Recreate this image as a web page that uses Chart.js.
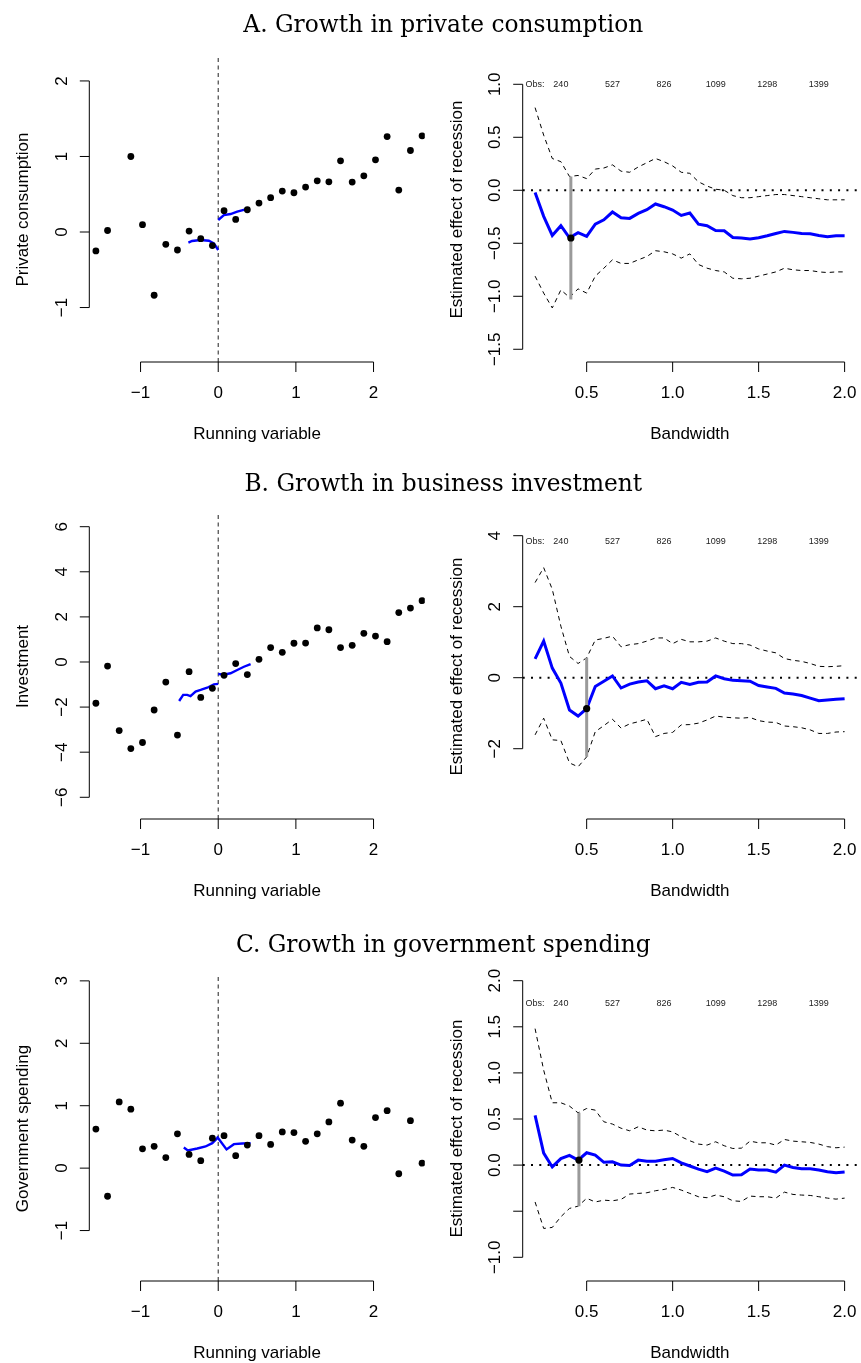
<!DOCTYPE html>
<html>
<head>
<meta charset="utf-8">
<script src="https://cdn.jsdelivr.net/npm/chart.js@4.4.1/dist/chart.umd.min.js"></script>
<style>
  html, body { margin: 0; padding: 0; background: #fff; width: 861px; height: 1363px; overflow: hidden; position: relative; }
  canvas { position: absolute; }
  #titles { left: 0; top: 0; z-index: 5; pointer-events: none; }
</style>
</head>
<body>
<canvas id="titles" width="861" height="1363"></canvas>
<canvas id="aL"></canvas><canvas id="aR"></canvas>
<canvas id="bL"></canvas><canvas id="bR"></canvas>
<canvas id="cL"></canvas><canvas id="cR"></canvas>
<script>
// ---------------- data ----------------
const panelTitles = ['A. Growth in private consumption', 'B. Growth in business investment', 'C. Growth in government spending'];

// bin centres of the running variable (binned scatter, left column)
const bins = [-1.575, -1.425, -1.275, -1.125, -0.975, -0.825, -0.675, -0.525, -0.375, -0.225, -0.075,
              0.075, 0.225, 0.375, 0.525, 0.675, 0.825, 0.975, 1.125, 1.275, 1.425, 1.575, 1.725,
              1.875, 2.025, 2.175, 2.325, 2.475, 2.625];

const consumptionBins = [-0.25, 0.02, null, 1.00, 0.097, -0.837, -0.163, -0.238, 0.013, -0.088, -0.18,
                         0.282, 0.167, 0.295, 0.383, 0.454, 0.542, 0.52, 0.595, 0.678, 0.665, 0.943, 0.661,
                         0.744, 0.956, 1.264, 0.555, 1.079, 1.273];
const investmentBins = [-1.83, -0.18, -3.04, -3.84, -3.57, -2.13, -0.89, -3.24, -0.43, -1.57, -1.17,
                        -0.59, -0.07, -0.56, 0.12, 0.64, 0.43, 0.83, 0.84, 1.51, 1.43, 0.64, 0.74,
                        1.27, 1.15, 0.90, 2.19, 2.39, 2.72];
const governmentBins = [0.625, -0.45, 1.06, 0.945, 0.31, 0.35, 0.17, 0.55, 0.22, 0.12, 0.48,
                        0.52, 0.20, 0.37, 0.52, 0.38, 0.58, 0.57, 0.43, 0.55, 0.74, 1.04, 0.45,
                        0.35, 0.81, 0.92, -0.09, 0.76, 0.08];

// local linear fits on each side of the cutoff
const consumptionFitLeftX  = [-0.384, -0.337, -0.229, -0.121, -0.056, 0];
const consumptionFitLeftY  = [-0.141, -0.119, -0.106, -0.115, -0.15, -0.238];
const consumptionFitRightX = [0, 0.073, 0.159, 0.245, 0.352];
const consumptionFitRightY = [0.159, 0.225, 0.238, 0.269, 0.30];
const investmentFitLeftX   = [-0.503, -0.451, -0.40, -0.357, -0.292, -0.227, -0.142, -0.056, 0];
const investmentFitLeftY   = [-1.73, -1.46, -1.46, -1.51, -1.31, -1.24, -1.14, -0.99, -0.97];
const investmentFitRightX  = [0, 0.073, 0.159, 0.245, 0.331, 0.417];
const investmentFitRightY  = [-0.53, -0.56, -0.50, -0.355, -0.21, -0.09];
const governmentFitLeftX   = [-0.443, -0.391, -0.27, -0.163, -0.077, -0.013, 0];
const governmentFitLeftY   = [0.33, 0.283, 0.315, 0.347, 0.40, 0.48, 0.507];
const governmentFitRightX  = [0, 0.107, 0.202, 0.309, 0.417];
const governmentFitRightY  = [0.48, 0.30, 0.384, 0.395, 0.40];

// bandwidth sensitivity (right column)
const bandwidths = [0.20, 0.25, 0.30, 0.35, 0.40, 0.45, 0.50, 0.55, 0.60, 0.65, 0.70, 0.75, 0.80,
                    0.85, 0.90, 0.95, 1.00, 1.05, 1.10, 1.15, 1.20, 1.25, 1.30, 1.35, 1.40, 1.45,
                    1.50, 1.55, 1.60, 1.65, 1.70, 1.75, 1.80, 1.85, 1.90, 1.95, 2.00];

const consumptionEst = [-0.02, -0.246, -0.426, -0.334, -0.448, -0.40, -0.435, -0.32, -0.278, -0.205, -0.259, -0.265, -0.218,
                        -0.183, -0.129, -0.155, -0.186, -0.237, -0.215, -0.319, -0.334, -0.379, -0.382, -0.445, -0.451, -0.46,
                        -0.448, -0.429, -0.407, -0.388, -0.397, -0.407, -0.41, -0.426, -0.438, -0.429, -0.429];
const consumptionUpper = [0.78, 0.52, 0.30, 0.27, 0.13, 0.14, 0.11, 0.20, 0.21, 0.24, 0.18, 0.17, 0.22,
                          0.26, 0.30, 0.27, 0.23, 0.17, 0.16, 0.08, 0.04, 0.01, 0.00, -0.05, -0.07, -0.07,
                          -0.06, -0.05, -0.04, -0.04, -0.05, -0.06, -0.07, -0.08, -0.09, -0.09, -0.09];
const consumptionLower = [-0.81, -0.97, -1.11, -0.94, -1.01, -0.93, -0.97, -0.81, -0.735, -0.656, -0.69, -0.69, -0.656,
                          -0.625, -0.57, -0.58, -0.60, -0.64, -0.60, -0.70, -0.735, -0.757, -0.77, -0.83, -0.835, -0.83,
                          -0.81, -0.79, -0.77, -0.735, -0.75, -0.757, -0.757, -0.77, -0.776, -0.77, -0.77];

const investmentEst = [0.53, 1.03, 0.27, -0.15, -0.91, -1.08, -0.87, -0.245, -0.10, 0.05, -0.29, -0.18, -0.12,
                       -0.085, -0.31, -0.23, -0.31, -0.13, -0.19, -0.13, -0.12, 0.05, -0.03, -0.075, -0.085, -0.10,
                       -0.22, -0.26, -0.30, -0.43, -0.46, -0.50, -0.575, -0.65, -0.63, -0.61, -0.59];
const investmentUpper = [2.68, 3.10, 2.49, 1.45, 0.60, 0.40, 0.56, 1.06, 1.11, 1.17, 0.87, 0.93, 0.96,
                         1.03, 1.12, 1.12, 0.96, 1.08, 1.01, 1.01, 1.03, 1.12, 1.03, 0.96, 0.96, 0.92,
                         0.81, 0.75, 0.70, 0.54, 0.49, 0.46, 0.40, 0.32, 0.31, 0.32, 0.34];
const investmentLower = [-1.61, -1.14, -1.75, -1.77, -2.40, -2.51, -2.23, -1.52, -1.35, -1.17, -1.42, -1.30, -1.24,
                         -1.17, -1.66, -1.57, -1.54, -1.33, -1.32, -1.28, -1.19, -1.08, -1.11, -1.13, -1.14, -1.12,
                         -1.21, -1.25, -1.26, -1.36, -1.38, -1.41, -1.47, -1.57, -1.57, -1.53, -1.52];

const governmentEst = [0.54, 0.13, -0.02, 0.07, 0.105, 0.054, 0.134, 0.108, 0.03, 0.036, 0.0, -0.004, 0.054,
                       0.043, 0.043, 0.058, 0.072, 0.025, -0.01, -0.043, -0.072, -0.033, -0.065, -0.108, -0.105, -0.043,
                       -0.054, -0.054, -0.076, 0.0, -0.025, -0.04, -0.04, -0.054, -0.072, -0.083, -0.076];
const governmentUpper = [1.48, 1.03, 0.676, 0.676, 0.64, 0.567, 0.614, 0.596, 0.47, 0.445, 0.40, 0.372, 0.416,
                         0.38, 0.372, 0.38, 0.36, 0.307, 0.264, 0.228, 0.217, 0.253, 0.21, 0.18, 0.184, 0.26,
                         0.242, 0.242, 0.217, 0.278, 0.26, 0.253, 0.246, 0.228, 0.20, 0.188, 0.195];
const governmentLower = [-0.40, -0.687, -0.676, -0.56, -0.47, -0.445, -0.36, -0.40, -0.38, -0.387, -0.372, -0.314, -0.307,
                         -0.30, -0.278, -0.264, -0.242, -0.271, -0.307, -0.343, -0.354, -0.325, -0.343, -0.387, -0.394, -0.336,
                         -0.343, -0.343, -0.358, -0.293, -0.318, -0.325, -0.329, -0.343, -0.358, -0.369, -0.358];

// chosen bandwidth: [h, estimate, lower, upper]
const consumptionOptimal = [0.408, -0.45, -1.03, 0.13];
const investmentOptimal  = [0.50, -0.87, -2.23, 0.56];
const governmentOptimal  = [0.455, 0.054, -0.445, 0.567];

// observation counts printed along the top of the bandwidth plots
const obsAt    = [0.2, 0.35, 0.65, 0.95, 1.25, 1.55, 1.85];
const obsLabel = ['Obs:', '240', '527', '826', '1099', '1298', '1399'];

// axis ticks
const runTicks  = [-1, 0, 1, 2];
const runLabels = ['\u22121', '0', '1', '2'];
const bwTicks   = [0.5, 1.0, 1.5, 2.0];
const bwLabels  = ['0.5', '1.0', '1.5', '2.0'];
const consumptionTicks  = [-1, 0, 1, 2];
const consumptionLabels = ['\u22121', '0', '1', '2'];
const consumptionEffTicks  = [-1.5, -1.0, -0.5, 0.0, 0.5, 1.0];
const consumptionEffLabels = ['\u22121.5', '\u22121.0', '\u22120.5', '0.0', '0.5', '1.0'];
const investmentTicks  = [-6, -4, -2, 0, 2, 4, 6];
const investmentLabels = ['\u22126', '\u22124', '\u22122', '0', '2', '4', '6'];
const investmentEffTicks  = [-2, 0, 2, 4];
const investmentEffLabels = ['\u22122', '0', '2', '4'];
const governmentTicks  = [-1, 0, 1, 2, 3];
const governmentLabels = ['\u22121', '0', '1', '2', '3'];
const governmentEffTicks  = [-1.0, -0.5, 0.0, 0.5, 1.0, 1.5, 2.0];
const governmentEffLabels = ['\u22121.0', '', '0.0', '0.5', '1.0', '1.5', '2.0'];

// ---------------- layout ----------------
const SANS = '"Liberation Sans", Arial, Helvetica, sans-serif';
const plotBottoms = [362, 819, 1281];
const PLOT_H = 305, PAD_TOP = 50, PAD_BOTTOM = 85;
const LEFT_CANVAS  = { x: 0,   w: 440, padL: 89.3, padR: 15.2 };
const RIGHT_CANVAS = { x: 430, w: 431, padL: 92.7, padR: 2.8 };

// R-style axes: line only between the outer ticks, outward ticks, rotated y labels
const rAxes = {
  id: 'rAxes',
  afterDraw(chart, args, o) {
    const ctx = chart.ctx, a = chart.chartArea;
    const xs = chart.scales.x, ys = chart.scales.y;
    ctx.save();
    ctx.strokeStyle = '#000';
    ctx.fillStyle = '#000';
    ctx.lineWidth = 1;
    ctx.font = '17px ' + SANS;

    // bottom axis
    const yb = a.bottom;
    const xp = o.xTicks.map(v => xs.getPixelForValue(v));
    ctx.beginPath();
    ctx.moveTo(xp[0], yb); ctx.lineTo(xp[xp.length - 1], yb);
    xp.forEach(p => { ctx.moveTo(p, yb); ctx.lineTo(p, yb + 10); });
    ctx.stroke();
    ctx.textAlign = 'center';
    ctx.textBaseline = 'alphabetic';
    xp.forEach((p, i) => ctx.fillText(o.xLabels[i], p, yb + 36));
    ctx.fillText(o.xTitle, (a.left + a.right) / 2, yb + 77);

    // left axis
    const xl = a.left;
    const yp = o.yTicks.map(v => ys.getPixelForValue(v));
    ctx.beginPath();
    ctx.moveTo(xl, yp[0]); ctx.lineTo(xl, yp[yp.length - 1]);
    yp.forEach(p => { ctx.moveTo(xl, p); ctx.lineTo(xl - 9.5, p); });
    ctx.stroke();
    yp.forEach((p, i) => {
      if (!o.yLabels[i]) return;
      ctx.save();
      ctx.translate(xl - 22.5, p);
      ctx.rotate(-Math.PI / 2);
      ctx.fillText(o.yLabels[i], 0, 0);
      ctx.restore();
    });
    ctx.save();
    ctx.translate(xl - 61, (a.top + a.bottom) / 2);
    ctx.rotate(-Math.PI / 2);
    ctx.fillText(o.yTitle, 0, 0);
    ctx.restore();

    // observation counts
    if (o.obs) {
      ctx.font = '9px ' + SANS;
      ctx.fillStyle = '#222';
      o.obs.at.forEach((v, i) => ctx.fillText(o.obs.labels[i], xs.getPixelForValue(v), a.top + 30));
    }
    ctx.restore();
  }
};

function place(id, col, row) {
  const c = document.getElementById(id);
  const top = plotBottoms[row] - PLOT_H - PAD_TOP;
  c.width = col.w;
  c.height = PAD_TOP + PLOT_H + PAD_BOTTOM;
  c.style.left = col.x + 'px';
  c.style.top = top + 'px';
  return c;
}

function pts(xs, ys) {
  return xs.map((x, i) => ({ x: x, y: ys[i] })).filter(p => p.y !== null);
}

function baseOptions(col, xMin, xMax, yMin, yMax, axes) {
  return {
    responsive: false,
    animation: false,
    devicePixelRatio: 1,
    events: [],
    layout: { padding: { left: col.padL, right: col.padR, top: PAD_TOP, bottom: PAD_BOTTOM } },
    scales: {
      x: { type: 'linear', min: xMin, max: xMax, display: false },
      y: { type: 'linear', min: yMin, max: yMax, display: false }
    },
    plugins: { legend: { display: false }, tooltip: { enabled: false }, rAxes: axes }
  };
}

// binned scatter with the two local fits and the cutoff
function scatterPanel(id, row, values, fitL, fitR, yMin, yMax, yTicks, yLabels, yTitle) {
  const xMin = -1.66, xMax = 2.66;
  const c = place(id, LEFT_CANVAS, row);
  new Chart(c, {
    type: 'scatter',
    data: {
      datasets: [
        { data: pts(bins, values), pointRadius: 3.4, pointBackgroundColor: '#000', pointBorderWidth: 0, showLine: false, order: 0 },
        { data: pts(fitL[0], fitL[1]), showLine: true, borderColor: '#0000ff', borderWidth: 2.4, pointRadius: 0, tension: 0, order: 1 },
        { data: pts(fitR[0], fitR[1]), showLine: true, borderColor: '#0000ff', borderWidth: 2.4, pointRadius: 0, tension: 0, order: 1 },
        { data: [{ x: 0, y: yMin }, { x: 0, y: yMax }], showLine: true, borderColor: '#333', borderWidth: 1.1,
          borderDash: [4, 3.5], pointRadius: 0, order: 3 }
      ]
    },
    options: baseOptions(LEFT_CANVAS, xMin, xMax, yMin, yMax, {
      xTicks: runTicks, xLabels: runLabels, xTitle: 'Running variable',
      yTicks: yTicks, yLabels: yLabels, yTitle: yTitle
    }),
    plugins: [rAxes]
  });
}

// estimate by bandwidth with confidence band and the chosen bandwidth
function bandwidthPanel(id, row, est, lower, upper, opt, yMin, yMax, yTicks, yLabels) {
  const xMin = 0.128, xMax = 2.072;
  const c = place(id, RIGHT_CANVAS, row);
  const dashed = { showLine: true, borderColor: '#000', borderWidth: 1, borderDash: [4.5, 4], pointRadius: 0, tension: 0, order: 3 };
  new Chart(c, {
    type: 'scatter',
    data: {
      datasets: [
        { data: [{ x: opt[0], y: opt[1] }], pointRadius: 3.6, pointBackgroundColor: '#000', pointBorderWidth: 0, showLine: false, order: 0 },
        { data: [{ x: opt[0], y: opt[2] }, { x: opt[0], y: opt[3] }], showLine: true, borderColor: '#9a9a9a', borderWidth: 3, pointRadius: 0, order: 1 },
        { data: pts(bandwidths, est), showLine: true, borderColor: '#0000ff', borderWidth: 3, pointRadius: 0, tension: 0, order: 2 },
        Object.assign({ data: pts(bandwidths, upper) }, dashed),
        Object.assign({ data: pts(bandwidths, lower) }, dashed),
        { data: [{ x: xMin, y: 0 }, { x: xMax, y: 0 }], showLine: true, borderColor: '#000', borderWidth: 2,
          borderDash: [2, 6.3], pointRadius: 0, order: 4 }
      ]
    },
    options: baseOptions(RIGHT_CANVAS, xMin, xMax, yMin, yMax, {
      xTicks: bwTicks, xLabels: bwLabels, xTitle: 'Bandwidth',
      yTicks: yTicks, yLabels: yLabels, yTitle: 'Estimated effect of recession',
      obs: { at: obsAt, labels: obsLabel }
    }),
    plugins: [rAxes]
  });
}

scatterPanel('aL', 0, consumptionBins, [consumptionFitLeftX, consumptionFitLeftY], [consumptionFitRightX, consumptionFitRightY],
             -1.721, 2.317, consumptionTicks, consumptionLabels, 'Private consumption');
bandwidthPanel('aR', 0, consumptionEst, consumptionLower, consumptionUpper, consumptionOptimal,
               -1.620, 1.2575, consumptionEffTicks, consumptionEffLabels);

scatterPanel('bL', 1, investmentBins, [investmentFitLeftX, investmentFitLeftY], [investmentFitRightX, investmentFitRightY],
             -6.963, 6.563, investmentTicks, investmentLabels, 'Investment');
bandwidthPanel('bR', 1, investmentEst, investmentLower, investmentUpper, investmentOptimal,
               -3.980, 4.611, investmentEffTicks, investmentEffLabels);

scatterPanel('cL', 2, governmentBins, [governmentFitLeftX, governmentFitLeftY], [governmentFitRightX, governmentFitRightY],
             -1.808, 3.078, governmentTicks, governmentLabels, 'Government spending');
bandwidthPanel('cR', 2, governmentEst, governmentLower, governmentUpper, governmentOptimal,
               -1.257, 2.051, governmentEffTicks, governmentEffLabels);

// panel headings
(function drawTitles() {
  const ctx = document.getElementById('titles').getContext('2d');
  const SERIF = '"DejaVu Serif", "Liberation Serif", serif';
  ctx.font = '23px ' + SERIF;
  const w = ctx.measureText(panelTitles[0]).width;
  const size = 23 * 400 / w;
  ctx.font = size.toFixed(2) + 'px ' + SERIF;
  ctx.fillStyle = '#000';
  ctx.textAlign = 'center';
  ctx.textBaseline = 'alphabetic';
  const baselines = [31.7, 491, 951.5];
  panelTitles.forEach((t, i) => ctx.fillText(t, 443.3, baselines[i]));
})();
</script>
</body>
</html>
